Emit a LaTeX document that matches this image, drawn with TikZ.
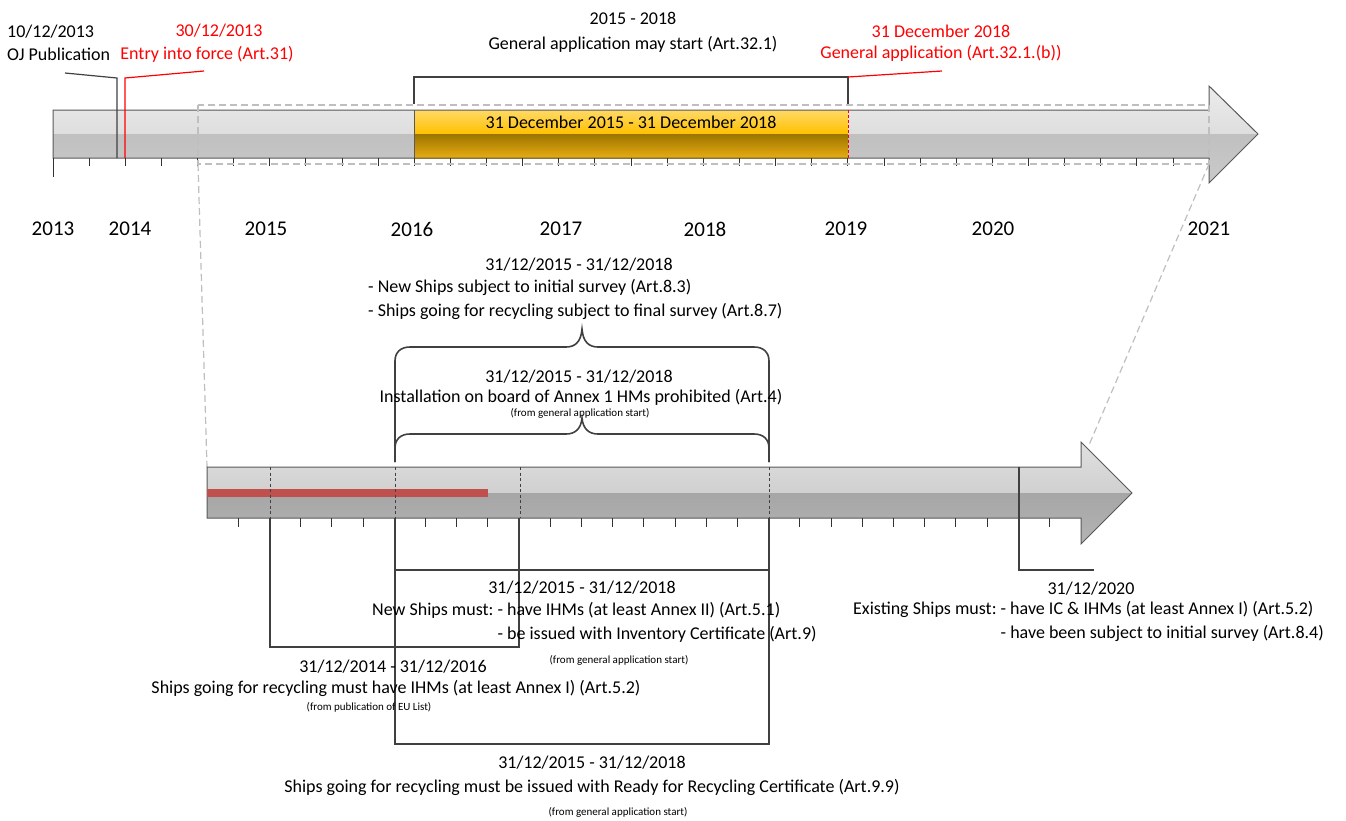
\documentclass[tikz,border=0pt]{standalone}
\usepackage{fontspec}
\setmainfont{Carlito}
\usetikzlibrary{positioning,calc}
\definecolor{inkgray}{RGB}{64,64,64}
\definecolor{rimgray}{RGB}{89,89,89}
\definecolor{zoomgray}{RGB}{191,191,191}
\definecolor{lawred}{RGB}{255,0,0}
\definecolor{ihmred}{RGB}{192,80,77}
\definecolor{goldhi}{RGB}{255,217,102}
\definecolor{goldmid}{RGB}{255,192,0}
\definecolor{golddark}{RGB}{156,116,0}
\definecolor{goldlow}{RGB}{232,172,16}
\definecolor{barhi}{RGB}{236,236,236}
\definecolor{barmid}{RGB}{222,222,222}
\definecolor{barlo}{RGB}{192,192,192}
\definecolor{barlotwo}{RGB}{202,202,202}
\definecolor{lowhi}{RGB}{224,224,224}
\definecolor{lowmid}{RGB}{208,208,208}
\definecolor{lowlo}{RGB}{166,166,166}
\definecolor{lowlotwo}{RGB}{180,180,180}

% curly brace over the 2016-2018 span: end y, bar y, tip y
\newcommand{\spanbrace}[3]{%
  \draw[bracebody] (395,#1) -- (395,#2+14) .. controls (395,#2+5) and (401,#2) .. (410,#2)
    -- (566,#2) .. controls (575,#2) and (581,#2-5) .. (582,#3)
    .. controls (583,#2-5) and (589,#2) .. (598,#2)
    -- (754,#2) .. controls (763,#2) and (769,#2+5) .. (769,#2+14) -- (769,#1);}

\begin{document}
\begin{tikzpicture}[
  x=1pt, y=-1pt,
  txt/.style={font=\fontsize{18}{23.5}\selectfont, inner sep=0pt},
  redtxt/.style={txt, text=lawred},
  yr/.style={font=\fontsize{21}{25}\selectfont, inner sep=0pt},
  note/.style={font=\fontsize{11}{13}\selectfont, inner sep=0pt},
  rim/.style={draw=rimgray, line width=1pt},
  tickmark/.style={draw=black!80, line width=1pt},
  bracketline/.style={draw=inkgray, line width=1.8pt},
  bracebody/.style={draw=inkgray, line width=1.6pt},
  lead/.style={draw=inkgray, line width=1.2pt},
  redlead/.style={draw=lawred, line width=1.2pt},
  zoomline/.style={draw=zoomgray, line width=1.2pt, dash pattern=on 7pt off 4pt},
  yearmark/.style={draw=inkgray, line width=1pt, dash pattern=on 3pt off 2.5pt},
]
\useasboundingbox (0,0) rectangle (1346,820);

% Overview arrow 2013-2021
\begin{scope}
  \clip (53,110) -- (1209,110) -- (1209,86) -- (1258,134) -- (1209,183) -- (1209,158) -- (53,158) -- cycle;
  \shade[top color=barhi, bottom color=barmid] (53,86) rectangle (1260,134);
  \shade[top color=barlo, bottom color=barlotwo] (53,134) rectangle (1260,183);
\end{scope}
\shade[top color=goldhi, bottom color=goldmid] (414,110) rectangle (848,134);
\shade[top color=golddark, bottom color=goldlow] (414,134) rectangle (848,158);
\draw[rim] (53,110) -- (1209,110) -- (1209,86) -- (1258,134) -- (1209,183) -- (1209,158) -- (53,158) -- cycle;
\draw[rim] (414,110) -- (414,158);
\draw[lawred, line width=1pt, dash pattern=on 3pt off 2pt] (848,110) -- (848,158);
\node[txt] (goldspan) at (631,122) {31 December 2015 - 31 December 2018};

% Ticks and years
\foreach \k in {1,...,31}
  \draw[tickmark] ({53+36.13*\k},158) -- ++(0,8);
\draw[tickmark] (53,158) -- (53,177);
\foreach \yr/\x in {2013/53, 2014/130, 2015/266, 2016/412, 2017/561, 2018/705, 2019/846, 2020/993, 2021/1209}
  \node[yr] (y\yr) at (\x,229) {\yr};

% Milestones on the overview
\coordinate (ojmark) at (117,158);
\coordinate (eifmark) at (125,158);
\draw[lead] (ojmark) -- (117,78) -- (65,73);
\draw[redlead] (eifmark) -- (125,78) -- (204,71);
\draw[bracketline] (414,104) -- (414,77) -- (848,77) -- (848,104);
\draw[redlead] (848,77) -- (942,71);

\node[txt, anchor=west] (ojdate) at (7,32) {10/12/2013};
\node[txt, anchor=west] (ojpub) at (7,54) {OJ Publication};
\node[redtxt] (eifdate) at (219,31) {30/12/2013};
\node[redtxt] (eif) at (207,54) {Entry into force (Art.31)};
\node[txt] (gaspan) at (633,18) {2015 - 2018};
\node[txt] (gamay) at (633,44) {General application may start (Art.32.1)};
\node[redtxt] (gadate) at (941,31) {31 December 2018};
\node[redtxt] (ga) at (941,53) {General application (Art.32.1.(b))};

% Zoom window and its projection
\coordinate (zoomsw) at (198,164);
\coordinate (zoomse) at (1209,164);
\coordinate (lowstart) at (207,467);
\coordinate (lowhead) at (1089,445);
\draw[zoomline] (198,105) rectangle (1209,164);
\draw[zoomline] (zoomsw) -- (lowstart);
\draw[zoomline] (zoomse) -- (lowhead);

% Detail arrow mid 2014 - 2021
\begin{scope}
  \clip (207,467) -- (1081,467) -- (1081,442) -- (1132,493) -- (1081,544) -- (1081,518) -- (207,518) -- cycle;
  \shade[top color=lowhi, bottom color=lowmid] (207,442) rectangle (1135,493);
  \shade[top color=lowlo, bottom color=lowlotwo] (207,493) rectangle (1135,544);
\end{scope}
\draw[rim] (207,467) -- (1081,467) -- (1081,442) -- (1132,493) -- (1081,544) -- (1081,518) -- (207,518) -- cycle;
\fill[ihmred] (207,489) rectangle (488,497);
\foreach \x in {270,395,520,769}
  \draw[yearmark] (\x,467) -- (\x,518);
\foreach \k in {1,...,27}
  \draw[tickmark] ({207+31.2*\k},518) -- ++(0,9);

% Braces above the detail arrow
\spanbrace{462}{347}{329}
\spanbrace{462}{434}{418}

\node[txt] (surveydate) at (579,265) {31/12/2015 - 31/12/2018};
\node[txt, anchor=west] (survey) at (368,300) {\begin{tabular}{@{}l@{}}- New Ships subject to initial survey (Art.8.3)\\- Ships going for recycling subject to final survey (Art.8.7)\end{tabular}};
\node[txt] (hmdate) at (579,377) {31/12/2015 - 31/12/2018};
\node[txt] (hm) at (581,397) {Installation on board of Annex 1 HMs prohibited (Art.4)};
\node[note] (hmnote) at (580,413) {(from general application start)};

% Brackets below the detail arrow
\draw[bracketline] (270,518) -- (270,647) -- (519,647) -- (519,518);
\draw[bracketline] (395,518) -- (395,744) -- (769,744) -- (769,518);
\draw[bracketline] (395,570) -- (769,570);
\draw[lead, line width=1.5pt] (1019,467) -- (1019,570) -- (1094,570);

\node[txt] (newdate) at (582,588) {31/12/2015 - 31/12/2018};
\node[txt, anchor=west] (newships) at (372,623) {\begin{tabular}{@{}r@{\ }l@{}}New Ships must: & - have IHMs (at least Annex II) (Art.5.1)\\ & - be issued with Inventory Certificate (Art.9)\end{tabular}};
\node[note] (newnote) at (619,660) {(from general application start)};

\node[txt] (recydate) at (393,667) {31/12/2014 - 31/12/2016};
\node[txt] (recy) at (396,688) {Ships going for recycling must have IHMs (at least Annex I) (Art.5.2)};
\node[note] (recynote) at (369,707) {(from publication of EU List)};

\node[txt] (rfrdate) at (592,763) {31/12/2015 - 31/12/2018};
\node[txt] (rfr) at (592,787) {Ships going for recycling must be issued with Ready for Recycling Certificate (Art.9.9)};
\node[note] (rfrnote) at (618,812) {(from general application start)};

\node[txt] (existdate) at (1091,589) {31/12/2020};
\node[txt, anchor=west] (exist) at (853,622) {\begin{tabular}{@{}r@{\ }l@{}}Existing Ships must: & - have IC \& IHMs (at least Annex I) (Art.5.2)\\ & - have been subject to initial survey (Art.8.4)\end{tabular}};

\end{tikzpicture}
\end{document}
